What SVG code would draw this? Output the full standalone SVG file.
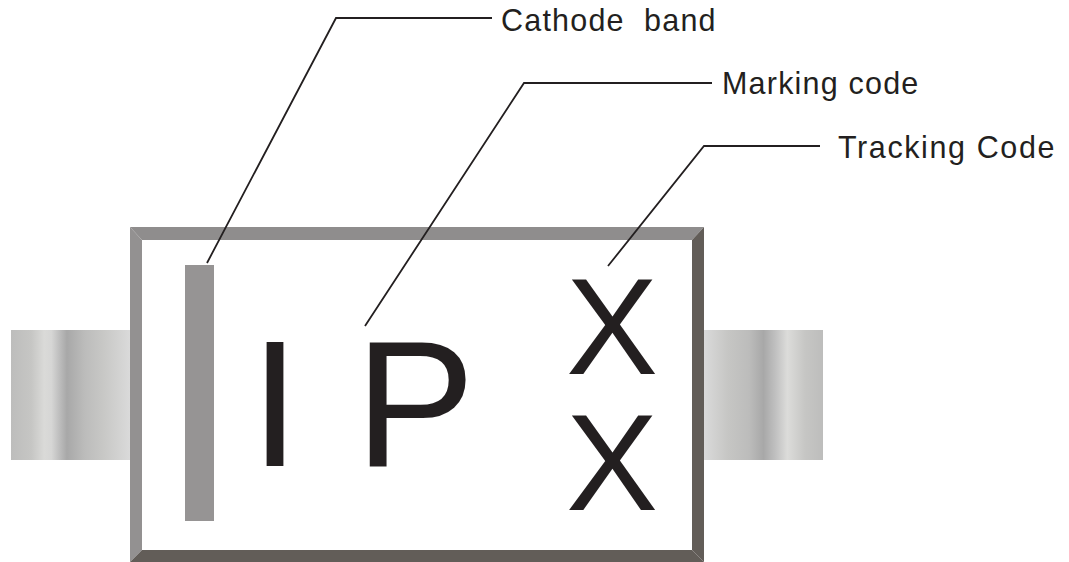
<svg xmlns="http://www.w3.org/2000/svg" width="1069" height="562" viewBox="0 0 1069 562">
<style>
.lab{font-family:"Liberation Sans",Arial,sans-serif;font-size:30.5px;fill:#231f20;letter-spacing:1.2px;white-space:pre}
.big{font-family:"Liberation Sans",Arial,sans-serif;fill:#231f20}
.ln{fill:none;stroke:#231f20;stroke-width:1.8}
</style>
<defs>
<linearGradient id="leadL" x1="0" x2="1" y1="0" y2="0">
<stop offset="0" stop-color="#bdbdbc"/><stop offset=".17" stop-color="#c6c6c4"/><stop offset=".28" stop-color="#dadad8"/><stop offset=".34" stop-color="#d6d6d5"/><stop offset=".40" stop-color="#c0c0c0"/><stop offset=".47" stop-color="#a8a8a8"/><stop offset=".62" stop-color="#bcbcbb"/><stop offset=".78" stop-color="#c8c8c6"/><stop offset="1" stop-color="#dadada"/>
</linearGradient>
<linearGradient id="leadR" x1="0" x2="1" y1="0" y2="0">
<stop offset="0" stop-color="#dadada"/><stop offset=".2" stop-color="#c6c6c4"/><stop offset=".38" stop-color="#bcbcbb"/><stop offset=".5" stop-color="#a8a8a8"/><stop offset=".6" stop-color="#c0c0c0"/><stop offset=".7" stop-color="#dcdcda"/><stop offset=".85" stop-color="#c6c6c4"/><stop offset="1" stop-color="#bdbdbc"/>
</linearGradient>
</defs>
<g id="lead-left"><rect x="11" y="330" width="119" height="130" fill="url(#leadL)"/></g>
<g id="lead-right"><rect x="704" y="330" width="119" height="130" fill="url(#leadR)"/></g>
<g id="body">
<polygon points="130,227 704,227 692,240 142,240" fill="#8f8d8d"/>
<polygon points="130,227 142,240 142,550 130,562" fill="#939191"/>
<polygon points="704,227 704,562 692,550 692,240" fill="#625d58"/>
<polygon points="130,562 142,550 692,550 704,562" fill="#625d58"/>
<rect x="142" y="240" width="550" height="310" fill="#fff"/>
</g>
<g id="cathode-band"><rect x="185" y="265" width="29" height="256" fill="#969494"/></g>
<g id="marking">
<text class="big" font-size="180" x="250" y="466">I</text>
<text class="big" font-size="180" x="355" y="466">P</text>
<text class="big" font-size="138" x="566" y="374">X</text>
<text class="big" font-size="138" x="566" y="510">X</text>
</g>
<g id="connectors">
<polyline class="ln" points="207,263 336,18 492,18"/>
<polyline class="ln" points="365,326 524,83 712,83"/>
<polyline class="ln" points="608,266 704,146 820,146"/>
</g>
<g id="label-cathode"><text class="lab" x="501" y="31" xml:space="preserve">Cathode  band</text></g>
<g id="label-marking"><text class="lab" x="722" y="94">Marking code</text></g>
<g id="label-tracking"><text class="lab" x="838" y="158" style="letter-spacing:1.6px">Tracking Code</text></g>
</svg>
